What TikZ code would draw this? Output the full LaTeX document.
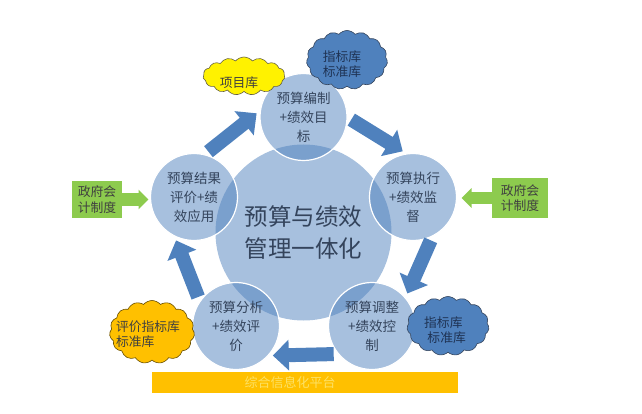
\documentclass[tikz,border=0pt]{standalone}
\usepackage{fontspec}
\setmainfont{Noto Sans CJK SC}
\usetikzlibrary{arrows.meta,shapes.symbols}
\definecolor{ballblue}{HTML}{4F81BD}
\definecolor{inkblue}{HTML}{34445C}
\definecolor{cloudink}{HTML}{1F3354}
\definecolor{leafgreen}{HTML}{8DCB4E}
\definecolor{barorange}{HTML}{FFC000}
\tikzset{
	ball/.style={circle,inner sep=0pt,outer sep=0pt,fill=ballblue,fill opacity=0.5,text opacity=1,text=inkblue,align=center},
	smallball/.style={ball,draw=white,line width=1.2pt,minimum size=87pt,font=\fontsize{13.5}{19}\selectfont},
	bluearrow/.style={draw=ballblue,line width=14pt,-{Triangle[length=16pt,width=30pt]},shorten <=5pt,shorten >=5pt},
	greenarrow/.style={draw=leafgreen,line width=12pt,-{Triangle[length=10pt,width=19pt]}},
	greenbox/.style={fill=leafgreen,inner sep=0pt,outer sep=0pt,align=center,text=black!75,font=\fontsize{12.8}{15.5}\selectfont},
	puff/.style={cloud,cloud puffs=15,cloud puff arc=100,inner sep=0pt,draw,line width=0.6pt},
	cloudtext/.style={align=center,inner sep=0pt,font=\fontsize{12.8}{15.5}\selectfont},
}
\begin{document}
\begin{tikzpicture}[x=1pt,y=-1pt,>=stealth]
	\useasboundingbox (0,0) rectangle (642,414);
	\node[ball,minimum size=176pt,font=\fontsize{23.5}{32}\selectfont] (yiti) at (303.5,232.5) {预算与绩效\\管理一体化};
	\node[smallball] (bianzhi) at (303.5,117) {预算编制\\+绩效目\\标};
	\node[smallball] (zhixing) at (413,197) {预算执行\\+绩效监\\督};
	\node[smallball] (tiaozheng) at (372,326) {预算调整\\+绩效控\\制};
	\node[smallball] (fenxi) at (236,326) {预算分析\\+绩效评\\价};
	\node[smallball] (jieguo) at (194,197) {预算结果\\评价+绩\\效应用};
	% block arrows round the ring
	\draw[bluearrow] (bianzhi.0) -- (zhixing.98);
	\draw[bluearrow] (zhixing.-63) -- (tiaozheng.40);
	\draw[bluearrow] (tiaozheng.-140) -- (fenxi.-43);
	\draw[bluearrow] (fenxi.146) -- (jieguo.243);
	\draw[bluearrow] (jieguo.76) -- (bianzhi.171);
	% the two boxes at the sides
	\node[greenbox,minimum width=50pt,minimum height=37pt] (zhiduleft) at (97,199.5) {政府会\\计制度};
	\node[greenbox,minimum width=56pt,minimum height=40pt] (zhiduright) at (520,198) {政府会\\计制度};
	\draw[greenarrow,shorten >=2pt] (zhiduleft.east) -- (zhiduleft.east -| jieguo.west);
	\draw[greenarrow,shorten >=5pt] (zhiduright.west) -- (zhiduright.west -| zhixing.east);
	% clouds
	\node[puff,fill=yellow,draw=black!70!yellow,minimum width=82pt,minimum height=38pt,aspect=2.2] (xiangmu) at (244,76) {};
	\node[cloudtext,text=black!75] (xiangmutext) at (239,83) {项目库};
	\node[puff,fill=ballblue,draw=inkblue,minimum width=81pt,minimum height=59pt,aspect=1.4] (zhibiaotop) at (347,60) {};
	\node[cloudtext,text=cloudink] (zhibiaotoptext) at (342,64) {指标库\\标准库};
	\node[puff,fill=ballblue,draw=inkblue,minimum width=82pt,minimum height=59pt,aspect=1.4] (zhibiaobottom) at (448,326) {};
	\node[cloudtext,text=cloudink] (zhibiaobottomtext) at (445,330) {指标库\hspace*{3.3pt}\\\hspace*{3.3pt}标准库};
	\node[puff,fill=barorange,draw=black!60!barorange,minimum width=85pt,minimum height=63pt,aspect=1.35] (pingjia) at (152,332) {};
	\node[cloudtext,align=left,text=black!75] (pingjiatext) at (148,334) {评价指标库\\标准库};
	% bottom bar
	\node[fill=barorange,inner sep=0pt,minimum width=306pt,minimum height=21pt] (pingtai) at (305,382.5) {};
	\node[text=yellow!35!barorange!60!white,inner sep=0pt,font=\fontsize{13}{15}\selectfont] (pingtaitext) at (290,383) {综合信息化平台};
\end{tikzpicture}
\end{document}
